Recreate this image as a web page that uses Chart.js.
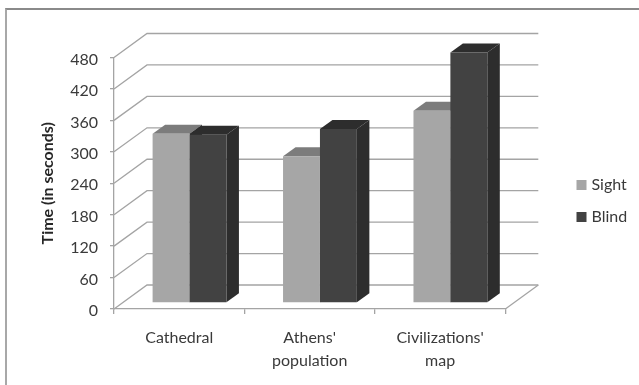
<!DOCTYPE html>
<html>
<head>
<meta charset="utf-8">
<title>Time by task</title>
<script src="https://cdn.jsdelivr.net/npm/chart.js@4"></script>
<style>
  body { margin: 0; background: #fff; }
  #frame { position: absolute; left: 5px; top: 8px; width: 634px; height: 377px; border-top: 2px solid #8a8a8a; border-left: 2px solid #a8a8a8; box-sizing: border-box; }
  canvas { position: absolute; left: 0; top: 0; filter: blur(0.35px); }
</style>
</head>
<body>
<div id="frame"></div>
<canvas id="myChart" width="639" height="385"></canvas>
<script>
const categories = ['Cathedral', ["Athens'", 'population'], ["Civilizations'", 'map']];
const sightValues = [323, 280, 367];
const blindValues = [321, 332, 478];
const yMax = 480;
const yStep = 60;

const textColor = '#3a3a3a';
const gridColor = '#a4a4a4';

// fake 3D: how far the back wall sits from the front axes, and how deep a bar is
const wallX = 33, wallY = 24;
const barShiftX = 10.3, barShiftY = -6;
const barDepthX = 12.5, barDepthY = 9;

const sideColors = ['#7c7c7c', '#2d2d2d'];

function line(c, points) {
    c.beginPath();
    points.forEach((p, i) => i ? c.lineTo(p[0], p[1]) : c.moveTo(p[0], p[1]));
    c.stroke();
}

function shape(c, color, points) {
    c.fillStyle = color;
    c.beginPath();
    points.forEach((p, i) => i ? c.lineTo(p[0], p[1]) : c.moveTo(p[0], p[1]));
    c.closePath();
    c.fill();
}

const fake3d = {
    id: 'fake3d',
    afterLayout(chart) {
        // legend sits on its own place, away from the plot
        const legend = chart.legend;
        const w = legend.width, h = legend.height;
        legend.left = 563.5;
        legend.right = 563.5 + w + 60;
        legend.top = 161;
        legend.bottom = 161 + h;
    },
    beforeDatasetsDraw(chart) {
        const c = chart.ctx;
        const area = chart.chartArea;
        const y = chart.scales.y;

        c.save();
        c.strokeStyle = gridColor;
        c.lineWidth = 1.3;
        y.ticks.forEach(t => {
            const py = y.getPixelForValue(t.value);
            line(c, [[area.left, py], [area.left + wallX, py - wallY], [area.right + wallX, py - wallY]]);
        });
        const y0 = y.getPixelForValue(0);
        line(c, [[area.right, y0], [area.right + wallX, y0 - wallY]]);
        c.restore();

        c.save();
        c.translate(barShiftX, barShiftY);
        chart.data.datasets.forEach((ds, i) => {
            chart.getDatasetMeta(i).data.forEach(bar => {
                const left = bar.x - bar.width / 2;
                const right = bar.x + bar.width / 2;
                shape(c, sideColors[i], [[left, bar.y], [left + barDepthX, bar.y - barDepthY], [right + barDepthX, bar.y - barDepthY], [right, bar.y]]);
                shape(c, '#2d2d2d', [[right, bar.y], [right + barDepthX, bar.y - barDepthY], [right + barDepthX, bar.base - barDepthY], [right, bar.base]]);
            });
        });
        // the fronts get drawn by the chart right after this, moved the same way
    },
    afterDatasetsDraw(chart) {
        chart.ctx.restore();
    }
};

new Chart(document.getElementById('myChart'), {
    type: 'bar',
    data: {
        labels: categories,
        datasets: [
            { label: 'Sight', data: sightValues, backgroundColor: '#a6a6a6', clip: false },
            { label: 'Blind', data: blindValues, backgroundColor: '#424242', clip: false }
        ]
    },
    plugins: [fake3d],
    options: {
        responsive: false,
        animation: false,
        layout: { padding: { top: 57.5, right: 60, left: 0, bottom: 0 } },
        datasets: { bar: { categoryPercentage: 0.566, barPercentage: 1 } },
        plugins: {
            tooltip: { enabled: false },
            legend: {
                position: 'right',
                align: 'start',
                labels: {
                    color: textColor,
                    font: { family: 'Lato', size: 16 },
                    boxWidth: 4,
                    boxHeight: 4,
                    padding: 16,
                    // thick outline makes the swatch 10px while the text stays close to it
                    generateLabels(chart) {
                        return Chart.defaults.plugins.legend.labels.generateLabels(chart).map(item => ({
                            ...item, strokeStyle: item.fillStyle, lineWidth: 6, fontColor: textColor
                        }));
                    }
                }
            }
        },
        scales: {
            x: {
                afterFit(s) { s.height = 76; s.paddingLeft = 0; s.paddingRight = 0; },
                border: { color: gridColor, width: 1.3 },
                grid: { drawOnChartArea: false, color: gridColor, tickLength: 5, lineWidth: 1.3 },
                ticks: { color: textColor, font: { family: 'Lato', size: 16, lineHeight: 1.4 }, padding: 13, maxRotation: 0 }
            },
            y: {
                min: 0,
                max: yMax,
                afterFit(s) { s.width = 114; s.paddingTop = 0; s.paddingBottom = 0; },
                border: { color: gridColor, width: 1.3 },
                grid: { drawOnChartArea: false, color: gridColor, tickLength: 4, lineWidth: 1.3 },
                ticks: { stepSize: yStep, color: textColor, font: { family: 'Lato', size: 16 }, padding: 12, labelOffset: 2 },
                title: {
                    display: true,
                    text: 'Time (in seconds)',
                    color: '#262626',
                    font: { family: 'Lato', size: 16, weight: 'bold' },
                    padding: { top: 38, bottom: 0 }
                }
            }
        }
    }
});
</script>
</body>
</html>
